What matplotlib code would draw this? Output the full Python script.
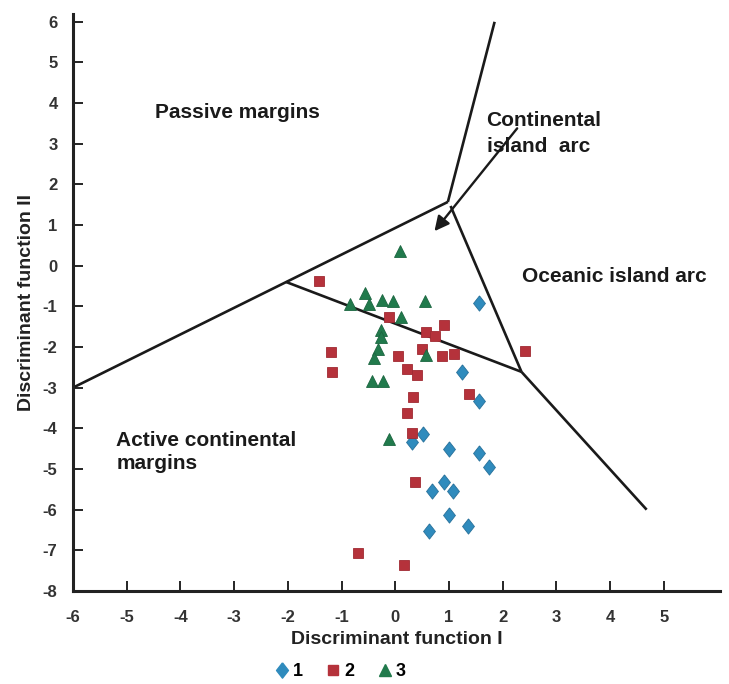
import matplotlib.pyplot as plt
from matplotlib.lines import Line2D

plt.rcParams['font.family'] = ['Liberation Sans', 'DejaVu Sans']
plt.rcParams['font.weight'] = 'bold'
plt.rcParams['axes.unicode_minus'] = False

# group 1 (blue diamonds)
x1 = [1.56, 1.25, 1.56, 0.52, 0.32, 1.00, 1.56, 1.74, 0.90, 0.69, 1.08, 1.00, 0.63, 1.35]
y1 = [-0.91, -2.61, -3.33, -4.15, -4.34, -4.50, -4.61, -4.95, -5.32, -5.54, -5.54, -6.12, -6.53, -6.41]

# group 2 (red squares)
x2 = [-1.41, -0.12, 0.90, 0.58, 0.74, -1.19, -1.18, 0.05, 0.49, 0.87, 1.09, 0.22, 0.41,
      2.42, 1.37, 0.33, 0.21, 0.32, 0.37, -0.69, 0.16]
y2 = [-0.37, -1.27, -1.46, -1.63, -1.73, -2.13, -2.61, -2.22, -2.04, -2.23, -2.16, -2.53, -2.68,
      -2.10, -3.15, -3.24, -3.62, -4.12, -5.32, -7.06, -7.36]

# group 3 (green triangles)
x3 = [0.09, -0.57, -0.85, -0.49, -0.25, -0.04, 0.55, 0.10, -0.26, -0.26, -0.32, -0.40,
      0.58, -0.44, -0.23, -0.11]
y3 = [0.37, -0.68, -0.95, -0.95, -0.85, -0.86, -0.87, -1.27, -1.59, -1.75, -2.06, -2.28,
      -2.20, -2.84, -2.84, -4.25]

# field boundaries
bound_left = ([-6.0, 0.98], [-3.0, 1.57])
bound_up = ([0.98, 1.85], [1.57, 6.0])
bound_right = ([1.03, 2.35], [1.47, -2.61])
bound_low = ([-2.03, 2.35], [-0.40, -2.61])
bound_lowright = ([2.35, 4.68], [-2.61, -6.0])

blue = '#2f8bbd'
red = '#b5323b'
green = '#217a4c'

# wider diamond than matplotlib's 'd'
diamond = [(0, 1), (0.78, 0), (0, -1), (-0.78, 0), (0, 1)]

fig = plt.figure(figsize=(7.29, 6.84), dpi=100)
ax = fig.add_axes([0.100, 0.136, 0.888, 0.844])

lw = 1.9
for bx, by in [bound_left, bound_up, bound_right, bound_low, bound_lowright]:
    ax.plot(bx, by, color='#1a1a1a', lw=lw, solid_capstyle='butt', zorder=2)

ax.plot(x1, y1, marker=diamond, color=blue, mec='#27709a', mew=0.6, ms=11, ls='none', zorder=3)
ax.plot(x2, y2, 's', color=red, mec='#a02a32', mew=0.6, ms=7.5, ls='none', zorder=3)
ax.plot(x3, y3, '^', color=green, mec='#1b6640', mew=0.6, ms=9, ls='none', zorder=3)

ax.annotate('', xy=(0.73, 0.85), xytext=(2.27, 3.38),
            arrowprops=dict(arrowstyle='-|>', color='#1a1a1a', lw=1.7,
                            mutation_scale=22, shrinkA=0, shrinkB=0))

tkw = dict(fontsize=15, fontweight='bold', color='#1a1a1a')
ax.text(-4.48, 3.76, 'Passive margins', ha='left', va='center', **tkw)
ax.text(1.70, 3.26, 'Continental\nisland  arc', ha='left', va='center', linespacing=1.45, **tkw)
ax.text(2.36, -0.26, 'Oceanic island arc', ha='left', va='center', **tkw)
ax.text(-5.19, -4.58, 'Active continental\nmargins', ha='left', va='center', linespacing=1.3, **tkw)

ax.set_xlim(-6, 6.05)
ax.set_ylim(-8, 6.2)
ax.set_xticks(range(-6, 6))
ax.set_yticks(range(-8, 7))
ax.tick_params(direction='in', length=7, width=1.2, labelsize=12, labelcolor='#333333')
ax.tick_params(axis='x', pad=14)
ax.tick_params(axis='y', pad=11)
for lab in ax.get_xticklabels() + ax.get_yticklabels():
    lab.set_fontweight('bold')

for side in ['top', 'right']:
    ax.spines[side].set_visible(False)
for side in ['left', 'bottom']:
    ax.spines[side].set_linewidth(2.2)
    ax.spines[side].set_color('#222222')

ax.set_xlabel('Discriminant function I', fontsize=14, fontweight='bold', color='#222222', labelpad=4)
ax.set_ylabel('Discriminant function II', fontsize=14, fontweight='bold', color='#222222', labelpad=6)

handles = [
    Line2D([], [], marker=diamond, color=blue, ls='none', ms=11),
    Line2D([], [], marker='s', color=red, ls='none', ms=7.5),
    Line2D([], [], marker='^', color=green, ls='none', ms=9),
]
fig.legend(handles, ['1', '2', '3'], loc='center', bbox_to_anchor=(0.465, 0.018), ncol=3,
           frameon=False, handletextpad=0.1, columnspacing=1.2, handlelength=1.0,
           prop={'size': 13, 'weight': 'bold'})

fig.savefig('out.png', dpi=100)
